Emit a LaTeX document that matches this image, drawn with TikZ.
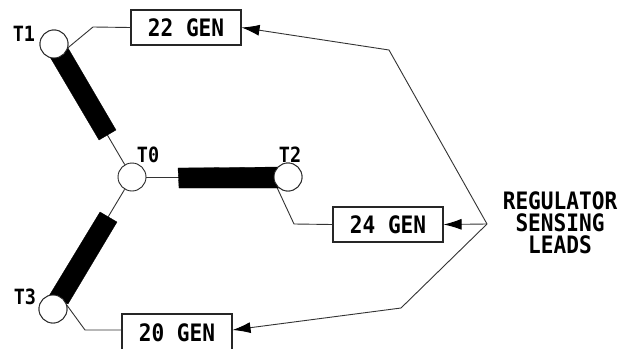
\documentclass[tikz,border=0pt]{standalone}
\usepackage{fontspec}
\usetikzlibrary{arrows.meta}
\setmainfont[FakeStretch=0.88]{DejaVu Sans Mono}
\begin{document}
\begin{tikzpicture}[x=1pt,y=-1pt,
  wire/.style={draw=black!80,line width=0.9pt,line join=miter},
  genbox/.style={draw=black!85,line width=1.1pt,fill=white,rectangle,minimum width=110pt,minimum height=35pt,inner sep=0pt,font=\bfseries\fontsize{24}{24}\selectfont},
  term/.style={draw=black!85,line width=0.9pt,fill=white,circle,minimum size=28pt,inner sep=0pt},
  bar/.style={fill=black,draw=black,line width=0.3pt},
  lab/.style={inner sep=0pt,font=\bfseries\fontsize{21}{22}\selectfont},
  note/.style={inner sep=0pt,align=center,font=\bfseries\fontsize{24}{22}\selectfont},
  tip/.style={-{Latex[length=18pt,width=11pt,black]}}]
\useasboundingbox (0,0) rectangle (620,348);
\fill[white] (0,0) rectangle (620,348);
\node[genbox] (g22) at (186,27.5) {22 GEN};
\node[genbox] (g24) at (388,224.5) {24 GEN};
\node[genbox,minimum height=38pt] (g20) at (177,333) {20 GEN};
\coordinate (hub) at (487,224);
\coordinate (up) at (389,50);
\coordinate (dn) at (401,308);
\coordinate (b1) at (93,27);
\coordinate (b2) at (294,224);
\coordinate (b3) at (85,330);
\node[term] (t1) at (54,44) {};
\node[term] (t0) at (132,177) {};
\node[term] (t2) at (288,177) {};
\node[term] (t3) at (53,309) {};
\draw[wire] (t0) -- (t1);
\draw[wire] (t0) -- (t2);
\draw[wire] (t0) -- (t3);
\draw[wire] (t1.-15) -- (b1) -- (g22.west);
\draw[wire] (t2.210) -- (b2) -- (g24.west);
\draw[wire] (t3.15) -- (b3) -- (g20.west |- b3);
\fill[bar] (50,57) -- (68,48) -- (116,130) -- (99,140) -- cycle;
\fill[bar] (178,168) -- (280,167) -- (280,188) -- (179,188) -- cycle;
\fill[bar] (100,212) -- (117,222) -- (68,304) -- (49,296) -- cycle;
\node[term] at (t1) {};
\node[term] at (t2) {};
\node[term] at (t3) {};
\draw[wire,tip] (hub) -- (up) -- (g22.east);
\draw[wire,tip] (hub) -- (g24.east);
\draw[wire,tip] (hub) -- (dn) -- (g20.east |- b3);
\node[lab] (l1) at (24,34) {T1};
\node[lab] (l0) at (148,155) {T0};
\node[lab] (l2) at (290,155) {T2};
\node[lab] (l3) at (25,296.5) {T3};
\node[note] (n) at (560,222.5) {REGULATOR\\SENSING\\LEADS};
\end{tikzpicture}
\end{document}
